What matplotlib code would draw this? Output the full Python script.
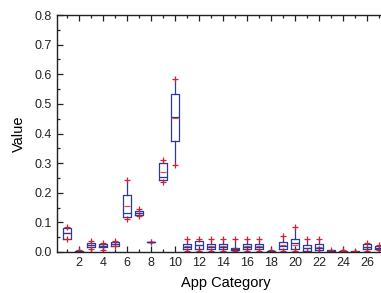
import matplotlib
matplotlib.use("Agg")
import matplotlib.pyplot as plt
from matplotlib.ticker import MultipleLocator, FixedLocator, FormatStrFormatter

plt.rcParams['font.family'] = ['Liberation Sans', 'DejaVu Sans']

cats = list(range(1, 28))
q1 = [0.045, 0.000, 0.017, 0.016, 0.019, 0.117, 0.124, 0.033, 0.243, 0.374,
      0.010, 0.010, 0.010, 0.010, 0.008, 0.010, 0.010, 0.001, 0.010, 0.009,
      0.005, 0.006, 0.001, 0.000, 0.000, 0.009, 0.009]
q3 = [0.082, 0.005, 0.029, 0.026, 0.033, 0.192, 0.140, 0.033, 0.301, 0.533,
      0.028, 0.037, 0.028, 0.027, 0.014, 0.027, 0.028, 0.005, 0.033, 0.044,
      0.025, 0.027, 0.006, 0.003, 0.002, 0.027, 0.020]
med = [0.063, 0.002, 0.022, 0.021, 0.026, 0.133, 0.131, 0.033, 0.252, 0.457,
       0.018, 0.022, 0.018, 0.018, 0.011, 0.018, 0.018, 0.003, 0.020, 0.030,
       0.013, 0.014, 0.003, 0.001, 0.001, 0.018, 0.015]
mean = [0.064, 0.003, 0.023, 0.021, 0.026, 0.155, 0.133, 0.033, 0.269, 0.452,
        0.019, 0.023, 0.019, 0.019, 0.012, 0.019, 0.019, 0.003, 0.022, 0.025,
        0.015, 0.016, 0.004, 0.002, 0.001, 0.018, 0.015]
wlo = [0.045, 0.000, 0.009, 0.008, 0.019, 0.113, 0.122, 0.033, 0.235, 0.293,
       0.003, 0.003, 0.003, 0.003, 0.002, 0.003, 0.003, 0.000, 0.003, 0.002,
       0.000, 0.000, 0.000, 0.000, 0.000, 0.005, 0.008]
whi = [0.085, 0.006, 0.036, 0.031, 0.036, 0.243, 0.145, 0.033, 0.311, 0.583,
       0.043, 0.045, 0.043, 0.043, 0.043, 0.043, 0.043, 0.006, 0.054, 0.083,
       0.043, 0.043, 0.008, 0.006, 0.004, 0.030, 0.022]
xtick_labels = list(range(2, 27, 2))

blue = '#2c3a98'
red = '#d81f2e'

fig = plt.figure(figsize=(3.81, 2.93), dpi=100)
ax = fig.add_axes([57 / 381, 41 / 293, (395 - 57) / 381, 237 / 293])

stats = []
for i in range(len(cats)):
    stats.append(dict(whislo=wlo[i], q1=q1[i], med=med[i], q3=q3[i],
                      whishi=whi[i], mean=mean[i], fliers=[]))

ax.bxp(stats, positions=cats, widths=0.7, showmeans=False, showcaps=False,
       boxprops=dict(color=blue, linewidth=0.9),
       whiskerprops=dict(color=blue, linewidth=0.9),
       medianprops=dict(color=blue, linewidth=0.9),
       manage_ticks=False)

ax.plot(cats, mean, linestyle='none', marker='_', color=red, markersize=5,
        markeredgewidth=0.9, alpha=0.8)
ax.plot(cats, whi, linestyle='none', marker='+', color=red, markersize=5,
        markeredgewidth=0.9)
ax.plot(cats, wlo, linestyle='none', marker='+', color=red, markersize=5,
        markeredgewidth=0.9)

ax.set_xlim(0.17, 0.17 + (395 - 57) / 12.0)
ax.set_ylim(0, 0.8)
ax.xaxis.set_major_locator(FixedLocator(xtick_labels))
ax.xaxis.set_minor_locator(MultipleLocator(1))
ax.yaxis.set_major_locator(MultipleLocator(0.1))
ax.yaxis.set_minor_locator(MultipleLocator(0.05))
ax.yaxis.set_major_formatter(FormatStrFormatter('%.1f'))
ax.tick_params(which='both', direction='in', top=True, right=False,
               labelsize=9, width=0.9, colors='#222222')
ax.tick_params(which='major', length=4)
ax.tick_params(which='minor', length=2.5)
for s in ax.spines.values():
    s.set_linewidth(1.0)
    s.set_color('#222222')

ax.set_xlabel('App Category', fontsize=10.5, labelpad=5)
ax.set_ylabel('Value', fontsize=10.5, labelpad=6)

fig.savefig('out.png', dpi=100)
